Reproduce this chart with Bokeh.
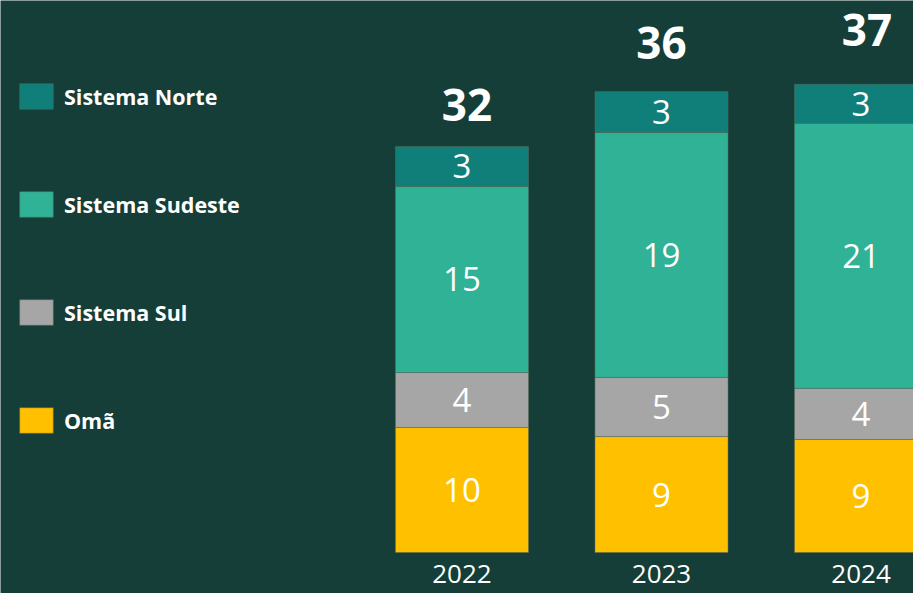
from bokeh.plotting import figure
from bokeh.models import Range1d, ColumnDataSource, Legend, LegendItem
from bokeh.core.properties import value
from bokeh.embed import file_html
from bokeh.resources import INLINE

years = ["2022", "2023", "2024"]
series = ["Omã", "Sistema Sul", "Sistema Sudeste", "Sistema Norte"]
oma = [9.84, 9.13, 8.90]
sul = [4.33, 4.65, 4.02]
sudeste = [14.65, 19.29, 20.87]
norte = [3.15, 3.23, 3.07]
colors = ["#ffc000", "#a6a6a6", "#2fb296", "#107f7a"]

BG = "#143e37"
xs = list(range(len(years)))
data = {"x": xs, "Omã": oma, "Sistema Sul": sul, "Sistema Sudeste": sudeste, "Sistema Norte": norte}
src = ColumnDataSource(data)

p = figure(width=913, height=593, output_backend="svg", toolbar_location=None,
           x_range=Range1d(-2.313, 2.263), y_range=Range1d(-3.228, 43.46),
           min_border=0, outline_line_color=None)
p.background_fill_color = BG
p.border_fill_color = BG
p.xaxis.visible = False
p.yaxis.visible = False
p.grid.visible = False

renderers = p.vbar_stack(series, x="x", width=0.667, source=src, color=colors,
                         line_color="#5a6b5a", line_width=1, line_alpha=0.5)

# segment labels
vals = [oma, sul, sudeste, norte]
lx, ly, lt = [], [], []
for i in xs:
    base = 0.0
    for v in vals:
        v_i = v[i]
        lx.append(i)
        ly.append(base + v_i / 2)
        lt.append(str(round(v_i)))
        base += v_i
p.text(x=lx, y=ly, text=lt, text_color="white", text_font=value("Open Sans"),
       text_font_size="33px", text_align="center", text_baseline="middle")

totals = [sum(v[i] for v in vals) for i in xs]
total_src = ColumnDataSource(dict(x=xs, y=totals, t=[str(round(t)) for t in totals],
                                  dx=[5, 0, 6], dy=[-41, -48, -54]))
p.text(x="x", y="y", text="t", source=total_src, text_color="white",
       text_font=value("Open Sans"), text_font_style="bold", text_font_size="44px",
       text_align="center", text_baseline="alphabetic", y_offset="dy", x_offset="dx")

p.text(x=xs, y=[0] * len(xs), text=years, text_color="white", text_font=value("Open Sans"),
       text_font_size="26px", text_align="center", text_baseline="alphabetic", y_offset=21)

items = [LegendItem(label=series[k], renderers=[renderers[k]]) for k in reversed(range(len(series)))]
legend = Legend(items=items, location=(15, 157), orientation="vertical",
                glyph_width=42, glyph_height=32, spacing=76, padding=0, margin=0,
                label_standoff=7, label_text_color="white", label_text_font="Open Sans",
                label_text_font_style="bold", label_text_font_size="21.5px",
                background_fill_alpha=0, border_line_color=None, label_height=26)
p.add_layout(legend)

open("out.html", "w").write(file_html(p, INLINE))
